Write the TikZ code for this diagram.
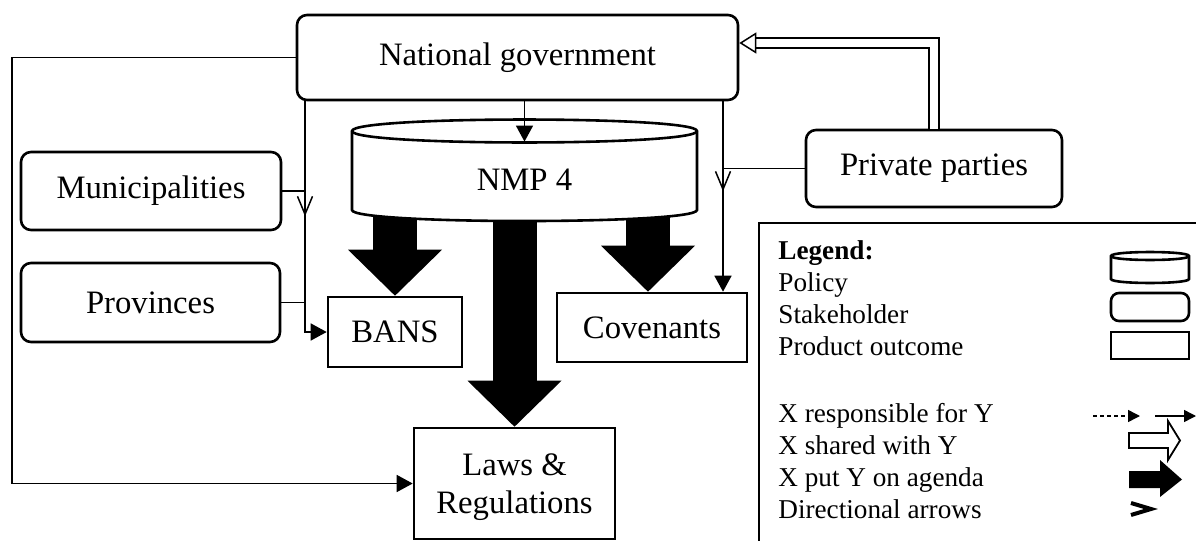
\documentclass[tikz,border=0pt]{standalone}
\usepackage{fontspec}
\setmainfont{Liberation Serif}
\usetikzlibrary{arrows.meta,decorations.markings,backgrounds}

\begin{document}
\begin{tikzpicture}[x=0.5pt,y=-0.5pt,
    txt/.style={font=\fontsize{16.35}{19}\selectfont, inner sep=0pt, align=center},
    stake/.style={txt, draw, line width=1.3pt, rounded corners=5pt},
    outcome/.style={txt, draw, line width=1.3pt},
    leg/.style={font=\fontsize{13.6}{16}\selectfont, inner sep=0pt, anchor=base west},
    conn/.style={line width=0.75pt},
    flow/.style={conn, -{Triangle[length=8pt,width=8.5pt]}},
    agenda/.style={line width=22pt, -{Triangle[length=23pt,width=47pt,line width=0pt]}},
    shared/.style={line width=0.75pt, double, double distance=4.2pt, -{Triangle[open,length=8.5pt,width=10.5pt]}},
    dirmark/.style={postaction=decorate, decoration={markings,
        mark=at position #1 with {\arrow{Straight Barb[length=9pt,width=7.5pt,line width=0.75pt]}}}}]
    \useasboundingbox (0,0) rectangle (1196,541);
    % stakeholders and outcomes
    \node[stake, minimum width=220.5pt, minimum height=42.5pt] (ng) at (517.5,57.5) {National government};
    \node[stake, minimum width=130pt, minimum height=39pt] (mun) at (151,191) {Municipalities};
    \node[stake, minimum width=129.5pt, minimum height=39.5pt] (prov) at (150.5,302.5) {Provinces};
    \node[stake, minimum width=128pt, minimum height=38.5pt] (pp) at (934,168.5) {Private parties};
    \node[outcome, minimum width=67pt, minimum height=35pt] (bans) at (395,332) {BANS};
    \node[outcome, minimum width=95pt, minimum height=34.5pt] (cov) at (652,327.5) {Covenants};
    \node[outcome, minimum width=100.5pt, minimum height=55.5pt, text depth=-1.5pt] (laws) at (514.5,483.5) {Laws \&\\Regulations};
    % policy (cylinder)
    \filldraw[fill=white, line width=1.3pt] (352,131) -- (352,210) .. controls (352,224.7) and (697,224.7) .. (697,210)
        -- (697,131) .. controls (697,115.7) and (352,115.7) .. (352,131) -- cycle;
    \draw[line width=1.3pt] (352,131) .. controls (352,146.3) and (697,146.3) .. (697,131);
    \node[txt, minimum width=172.5pt, minimum height=38pt] (nmp) at (524.5,180) {NMP 4};
    \coordinate (lt) at (305,0);
    \coordinate (rt) at (723,0);
    \coordinate (lc) at (12,0);
    \coordinate (nb) at ([yshift=5pt]nmp.south);
    % responsible / directional
    \draw[flow] (ng.west) -| (lc |- laws.west) -- (laws.west);
    \draw[flow, dirmark=57.5pt] (lt |- ng.south) |- (bans.west);
    \draw[conn] (mun.east) -- (lt |- mun.east);
    \draw[conn] (prov.east) -- (lt |- prov.east);
    \draw[flow, dirmark=45pt] (rt |- ng.south) -- (rt |- cov.north);
    \draw[conn] (pp.west) -- (rt |- pp.west);
    \draw[flow] (nmp.north |- ng.south) -- (nmp.north);
    % shared
    \draw[shared] (pp.north) |- ([yshift=7.25pt]ng.east);
    % agenda
    \begin{scope}[on background layer]
        \draw[agenda] (nb -| bans.north) -- (bans.north);
        \draw[agenda] (nb -| laws.north) -- (laws.north);
        \draw[agenda] ([xshift=-2pt]nb -| cov.north) -- ([xshift=-2pt]cov.north);
    \end{scope}
    % legend
    \begin{scope}
        \clip (0,0) rectangle (1196,541);
        \draw[line width=0.8pt] (759,223) rectangle (1230,570);
    \end{scope}
    \node[leg] (lgd) at (778,259) {\textbf{Legend:}};
    \node[leg] (lpol) at (778,291) {Policy};
    \node[leg] (lsta) at (778,323) {Stakeholder};
    \node[leg] (lpro) at (778,355) {Product outcome};
    \node[leg] (lres) at (778,422) {X responsible for Y};
    \node[leg] (lsha) at (778,454) {X shared with Y};
    \node[leg] (lage) at (778,486) {X put Y on agenda};
    \node[leg] (ldir) at (778,518) {Directional arrows};
    \draw[line width=1.3pt] (1111,256) -- (1111,279) .. controls (1111,284.3) and (1189,284.3) .. (1189,279)
        -- (1189,256) .. controls (1189,250.7) and (1111,250.7) .. (1111,256) -- cycle;
    \draw[line width=1.3pt] (1111,256) .. controls (1111,261.3) and (1189,261.3) .. (1189,256);
    \draw[line width=1.3pt, rounded corners=4pt] (1111,293) rectangle (1189,321);
    \draw[line width=1.3pt] (1111,332) rectangle (1189,359);
    \draw[conn, dash pattern=on 2pt off 1.5pt, -{Triangle[length=6pt,width=6pt]}] (1093,416) -- (1140,416);
    \draw[conn, -{Triangle[length=6pt,width=6pt]}] (1155,416) -- (1196,416);
    \draw[line width=0.9pt] (1129,433) -- (1168,433) -- (1168,421) -- (1180,440.5) -- (1168,460)
        -- (1168,448) -- (1129,448) -- cycle;
    \fill (1129,471) -- (1160,471) -- (1160,460) -- (1182,479.5) -- (1160,497) -- (1160,488) -- (1129,488) -- cycle;
    \draw[line width=2pt] (1131,503) -- (1151,509) -- (1131,515);
\end{tikzpicture}
\end{document}
